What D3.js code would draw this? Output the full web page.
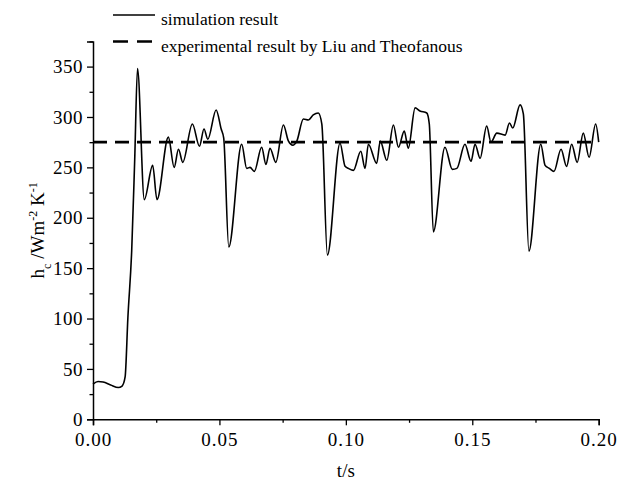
<!DOCTYPE html>
<html>
<head>
<meta charset="utf-8">
<script src="https://cdn.jsdelivr.net/npm/d3@7"></script>
<style>
  body { margin: 0; background: #fff; }
</style>
</head>
<body>
<div id="chart"></div>
<script>
(function () {

  // simulation result
  const times = [
    0.0000, 0.0020, 0.0040, 0.0070, 0.0100, 0.0115, 0.0127, 0.0138, 0.0153, 0.0165,
    0.0176, 0.0203, 0.0236, 0.0253, 0.0298, 0.0321, 0.0338, 0.0355, 0.0393, 0.0421,
    0.0439, 0.0454, 0.0487, 0.0507, 0.0517, 0.0537, 0.0588, 0.0608, 0.0621, 0.0638,
    0.0667, 0.0684, 0.0700, 0.0723, 0.0753, 0.0773, 0.0790, 0.0806, 0.0832, 0.0852,
    0.0871, 0.0891, 0.0905, 0.0927, 0.0977, 0.0997, 0.1010, 0.1030, 0.1059, 0.1076,
    0.1089, 0.1122, 0.1136, 0.1162, 0.1188, 0.1208, 0.1231, 0.1247, 0.1274, 0.1293,
    0.1320, 0.1330, 0.1346, 0.1392, 0.1421, 0.1439, 0.1471, 0.1495, 0.1511, 0.1531,
    0.1557, 0.1574, 0.1597, 0.1630, 0.1647, 0.1660, 0.1689, 0.1702, 0.1724, 0.1771,
    0.1788, 0.1805, 0.1823, 0.1851, 0.1873, 0.1893, 0.1915, 0.1939, 0.1962, 0.1988,
    0.2000
  ];
  const hcValues = [
    35, 37.5, 37, 34, 31.5, 33, 42, 101, 167, 258,
    348, 218, 252, 218, 280, 250, 268, 255, 293, 271,
    288, 278, 307, 288, 279, 171, 273, 249, 250, 246,
    270, 253, 269, 255, 292, 276, 272, 276, 298, 297,
    302, 304, 293, 163, 274, 251, 249, 247, 266, 249,
    273, 254, 276, 257, 292, 270, 286, 269, 309, 306,
    304, 293, 186, 270, 248, 249, 273, 256, 273, 259,
    291, 275, 284, 282, 294, 289, 312, 303, 167, 273,
    252, 249, 246, 268, 251, 273, 255, 284, 260, 293,
    275
  ];

  // experimental result (constant)
  const experimentValue = 275;

  const xTicks = [0, 0.05, 0.10, 0.15, 0.20];
  const yTicks = [0, 50, 100, 150, 200, 250, 300, 350];
  const legendLabels = ["simulation result", "experimental result by Liu and Theofanous"];

  const serif = "'Liberation Serif', 'Times New Roman', Times, serif";
  const width = 630, height = 482;
  const x = d3.scaleLinear().domain([0, 0.2]).range([93, 598.7]);
  const y = d3.scaleLinear().domain([0, 375]).range([419.3, 41.4]);

  const svg = d3.select("#chart").append("svg")
    .attr("width", width)
    .attr("height", height);

  // axes
  const xAxis = svg.append("g")
    .attr("transform", "translate(0," + y(0) + ")")
    .call(d3.axisBottom(x).tickValues(xTicks).tickFormat(d3.format(".2f")).tickSizeOuter(0).tickSize(6).tickPadding(7));
  svg.append("g")
    .attr("transform", "translate(0," + y(0) + ")")
    .call(d3.axisBottom(x).tickValues(d3.range(0.025, 0.2, 0.05)).tickFormat("").tickSizeOuter(0).tickSize(3.5))
    .select(".domain").remove();

  const yAxis = svg.append("g")
    .attr("transform", "translate(" + x(0) + ",0)")
    .call(d3.axisLeft(y).tickValues(yTicks).tickSizeOuter(0).tickSize(6).tickPadding(4));
  svg.append("g")
    .attr("transform", "translate(" + x(0) + ",0)")
    .call(d3.axisLeft(y).tickValues(d3.range(25, 400, 50)).tickFormat("").tickSizeOuter(0).tickSize(3.5))
    .select(".domain").remove();

  svg.selectAll(".domain").attr("stroke-width", 1.5);
  svg.selectAll(".tick line").attr("stroke-width", 1.3);
  xAxis.selectAll("text").attr("font-family", serif).attr("font-size", 19).attr("letter-spacing", "1px").attr("fill", "#000");
  yAxis.selectAll("text").attr("font-family", serif).attr("font-size", 19).attr("letter-spacing", "0.5px").attr("fill", "#000");

  // axis titles
  svg.append("text")
    .attr("x", x(0.1))
    .attr("y", 477)
    .attr("text-anchor", "middle")
    .attr("font-family", serif)
    .attr("font-size", 19)
    .text("t/s");

  const yLabel = svg.append("text")
    .attr("transform", "translate(44," + y(187.5) + ") rotate(-90)")
    .attr("text-anchor", "middle")
    .attr("font-family", serif)
    .attr("font-size", 19);
  yLabel.append("tspan").text("h");
  yLabel.append("tspan").attr("baseline-shift", "sub").attr("font-size", 12).text("c");
  yLabel.append("tspan").text(" /Wm");
  yLabel.append("tspan").attr("baseline-shift", "super").attr("font-size", 12).text("-2");
  yLabel.append("tspan").text(" K");
  yLabel.append("tspan").attr("baseline-shift", "super").attr("font-size", 12).text("-1");

  // experimental line
  svg.append("line")
    .attr("x1", x(0)).attr("x2", x(0.2))
    .attr("y1", y(experimentValue)).attr("y2", y(experimentValue))
    .attr("stroke", "#000")
    .attr("stroke-width", 2.6)
    .attr("stroke-dasharray", "14,8");

  // simulation curve
  const points = times.map((t, i) => [t, hcValues[i]]);
  const line = d3.line()
    .x(d => x(d[0]))
    .y(d => y(d[1]))
    .curve(d3.curveMonotoneX);
  svg.append("path")
    .datum(points)
    .attr("d", line)
    .attr("fill", "none")
    .attr("stroke", "#000")
    .attr("stroke-width", 1.6)
    .attr("stroke-linejoin", "round");

  // legend
  const legend = svg.append("g")
    .attr("font-family", serif)
    .attr("font-size", 17.5);
  legend.append("line")
    .attr("x1", 113).attr("x2", 155).attr("y1", 15).attr("y2", 15)
    .attr("stroke", "#000").attr("stroke-width", 1.4);
  legend.append("text")
    .attr("x", 161).attr("y", 25)
    .text(legendLabels[0]);
  legend.append("line")
    .attr("x1", 113).attr("x2", 160).attr("y1", 41.5).attr("y2", 41.5)
    .attr("stroke", "#000").attr("stroke-width", 2.6)
    .attr("stroke-dasharray", "15,9");
  legend.append("text")
    .attr("x", 161).attr("y", 52)
    .text(legendLabels[1]);

})();
</script>
</body>
</html>
